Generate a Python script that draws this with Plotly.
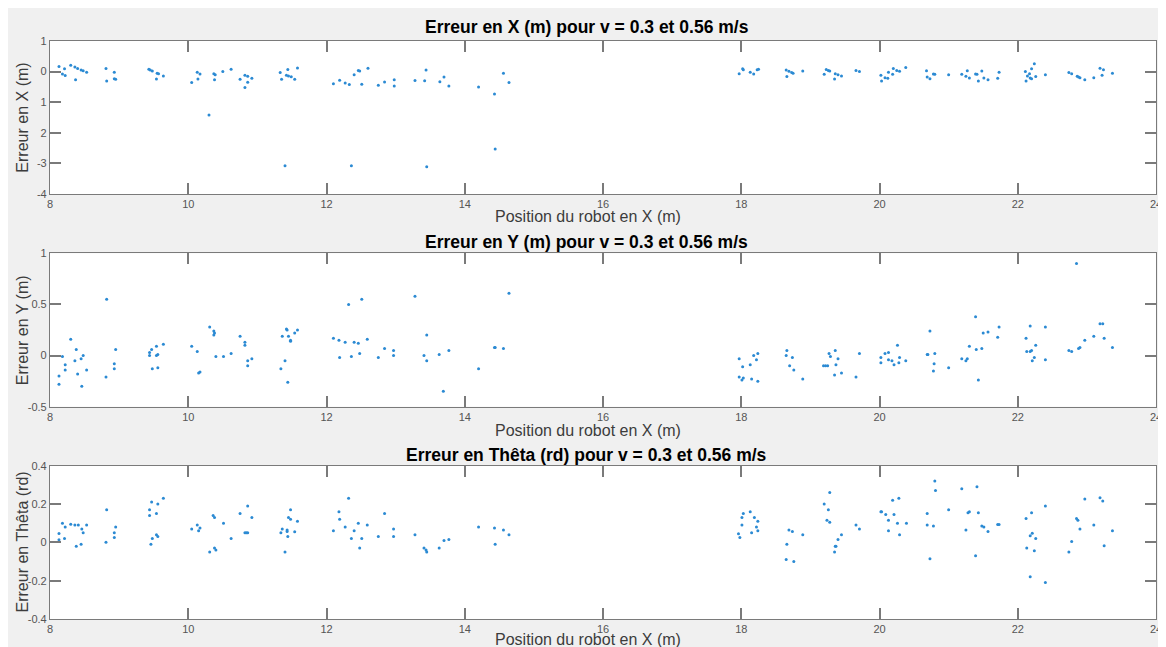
import plotly.graph_objects as go

# ---------------- data ----------------
# Erreur en X
pos_x = [8.13, 8.21, 8.18, 8.22, 8.30, 8.36, 8.40, 8.45, 8.48, 8.53, 8.37,
         8.81, 8.93, 8.82, 8.93, 8.95,
         9.43, 9.45, 9.48, 9.55, 9.57, 9.64, 9.54,
         10.05, 10.13, 10.17, 10.14, 10.30, 10.37, 10.39, 10.38, 10.50, 10.62,
         10.75, 10.82, 10.86, 10.92, 10.86, 10.82,
         11.33, 11.40, 11.44, 11.58, 11.35, 11.42, 11.45, 11.49, 11.54,
         12.10, 12.19, 12.27, 12.33, 12.36, 12.40, 12.46, 12.48, 12.51, 12.60,
         12.75, 12.84, 12.98, 12.98,
         13.28, 13.42, 13.44, 13.45, 13.64, 13.70, 13.77,
         14.20, 14.43, 14.44, 14.56, 14.64,
         17.97, 18.02, 18.03, 18.13, 18.18, 18.23, 18.25,
         18.65, 18.69, 18.73, 18.75, 18.66, 18.89, 19.20, 19.23, 19.26, 19.28,
         19.36, 19.40, 19.35, 19.45, 19.66, 19.71,
         20.02, 20.03, 20.08, 20.12, 20.13, 20.19, 20.20, 20.25, 20.29, 20.38,
         20.68, 20.69, 20.73, 20.78, 20.80, 21.00,
         21.19, 21.27, 21.25, 21.30, 21.39, 21.41, 21.43, 21.48, 21.51, 21.57,
         21.73, 21.71,
         22.11, 22.12, 22.14, 22.17, 22.18, 22.20, 22.20, 22.24, 22.26, 22.40,
         22.74, 22.78, 22.86, 22.88, 22.90, 22.97, 23.10, 23.19, 23.24, 23.22, 23.37]
err_x = [0.17, 0.09, -0.08, -0.13, 0.21, 0.15, 0.10, 0.05, 0.03, -0.02, -0.27,
         0.10, -0.02, -0.31, -0.23, -0.25,
         0.08, 0.05, 0.02, -0.05, -0.07, -0.14, -0.24,
         -0.36, -0.02, -0.08, -0.24, -1.42, -0.07, -0.10, -0.27, 0.00, 0.08,
         -0.25, -0.12, -0.15, -0.22, -0.35, -0.52,
         -0.03, -3.08, 0.07, 0.12, -0.25, -0.12, -0.14, -0.17, -0.25,
         -0.40, -0.28, -0.37, -0.42, -3.08, -0.10, 0.04, 0.02, -0.41, 0.11,
         -0.45, -0.34, -0.27, -0.47,
         -0.29, -0.30, 0.05, -3.11, -0.33, -0.18, -0.47,
         -0.50, -0.73, -2.53, -0.05, -0.36,
         -0.07, 0.09, 0.06, -0.02, -0.08, 0.06, 0.08,
         0.05, 0.01, -0.03, -0.05, -0.16, 0.02, -0.09, 0.07, 0.04, 0.02,
         -0.07, -0.10, -0.24, -0.14, 0.04, 0.00,
         -0.12, -0.31, -0.20, -0.22, -0.02, -0.09, 0.10, 0.04, 0.01, 0.13,
         0.03, -0.18, -0.23, -0.08, -0.09, -0.10,
         -0.09, 0.03, -0.15, -0.21, -0.08, -0.09, -0.31, 0.02, -0.21, -0.27,
         -0.02, -0.22,
         0.00, -0.31, -0.14, -0.07, -0.21, -0.23, 0.09, 0.26, -0.16, -0.10,
         -0.03, -0.07, -0.15, -0.18, -0.20, -0.27, -0.20, 0.11, 0.06, -0.12, -0.05]

# Erreur en Y
pos_y = [8.13, 8.13, 8.18, 8.22, 8.22, 8.30, 8.36, 8.38, 8.40, 8.45, 8.48, 8.46, 8.53,
         8.82, 8.81, 8.93, 8.93, 8.95,
         9.44, 9.44, 9.47, 9.48, 9.54, 9.54, 9.56, 9.56, 9.64,
         10.05, 10.13, 10.15, 10.17, 10.31, 10.37, 10.38, 10.37, 10.40, 10.51, 10.62,
         10.75, 10.82, 10.82, 10.86, 10.86, 10.92,
         11.34, 11.36, 11.40, 11.42, 11.43, 11.44, 11.45, 11.48, 11.48, 11.54, 11.58,
         12.10, 12.18, 12.19, 12.27, 12.32, 12.36, 12.40, 12.46, 12.48, 12.51, 12.59,
         12.75, 12.84, 12.97, 12.97,
         13.28, 13.41, 13.45, 13.45, 13.63, 13.69, 13.77,
         14.20, 14.43, 14.44, 14.56, 14.64,
         17.97, 18.02, 17.97, 18.01, 18.03, 18.13, 18.15, 18.18, 18.22, 18.24, 18.24,
         18.65, 18.66, 18.70, 18.74, 18.76, 18.89,
         19.19, 19.22, 19.25, 19.27, 19.29, 19.35, 19.36, 19.37, 19.40, 19.45, 19.66, 19.71,
         20.02, 20.02, 20.08, 20.13, 20.13, 20.18, 20.21, 20.26, 20.28, 20.29, 20.38,
         20.69, 20.70, 20.73, 20.78, 20.79, 20.80, 21.00,
         21.19, 21.25, 21.27, 21.30, 21.39, 21.40, 21.43, 21.48, 21.50, 21.57, 21.71, 21.73,
         22.12, 22.13, 22.18, 22.20, 22.18, 22.21, 22.24, 22.26, 22.40, 22.40,
         22.74, 22.78, 22.85, 22.88, 22.90, 22.97, 23.10, 23.19, 23.23, 23.25, 23.37]
err_y = [-0.20, -0.28, -0.01, -0.09, -0.14, 0.16, -0.05, 0.06, -0.18, -0.03, 0.00, -0.30, -0.14,
         0.55, -0.21, -0.08, -0.13, 0.06,
         0.03, 0.00, 0.06, -0.13, 0.09, 0.00, 0.01, -0.12, 0.11,
         0.09, 0.04, -0.17, -0.16, 0.28, 0.24, 0.22, 0.20, -0.01, -0.01, 0.02,
         0.19, 0.13, 0.10, -0.05, -0.10, -0.03,
         -0.13, 0.19, -0.05, 0.26, 0.25, -0.26, 0.19, 0.15, 0.14, 0.22, 0.25,
         0.17, 0.15, -0.02, 0.13, 0.50, -0.01, 0.13, 0.12, 0.02, 0.55, 0.16,
         -0.02, 0.07, 0.05, 0.00,
         0.58, 0.00, 0.20, -0.05, 0.01, -0.35, 0.05,
         -0.13, 0.08, 0.08, 0.07, 0.61,
         -0.03, -0.11, -0.21, -0.24, -0.22, -0.09, -0.23, 0.00, -0.04, 0.02, -0.25,
         0.00, 0.05, -0.10, -0.02, -0.14, -0.23,
         -0.10, -0.10, -0.10, 0.02, -0.01, -0.19, 0.05, -0.09, -0.03, -0.17, -0.21, 0.02,
         -0.07, -0.02, 0.02, -0.04, 0.03, -0.05, -0.09, 0.10, -0.07, -0.02, -0.05,
         0.01, 0.01, 0.24, -0.15, -0.08, 0.02, -0.12,
         -0.03, -0.05, -0.03, 0.09, 0.38, 0.06, -0.24, 0.07, 0.22, 0.23, 0.18, 0.28,
         0.17, 0.04, 0.04, 0.05, 0.29, -0.05, -0.02, 0.10, -0.04, 0.28,
         0.05, 0.04, 0.90, 0.07, 0.08, 0.15, 0.19, 0.31, 0.31, 0.17, 0.08]

# Erreur en Theta
pos_t = [8.13, 8.13, 8.18, 8.22, 8.21, 8.30, 8.36, 8.38, 8.41, 8.46, 8.48, 8.45, 8.53,
         8.82, 8.81, 8.93, 8.93, 8.95,
         9.44, 9.44, 9.47, 9.46, 9.48, 9.54, 9.56, 9.54, 9.56, 9.64,
         10.05, 10.13, 10.15, 10.17, 10.31, 10.36, 10.38, 10.38, 10.40, 10.51, 10.62,
         10.75, 10.82, 10.84, 10.86, 10.86, 10.92,
         11.34, 11.36, 11.40, 11.43, 11.43, 11.44, 11.45, 11.48, 11.48, 11.54, 11.58,
         12.10, 12.18, 12.19, 12.27, 12.32, 12.36, 12.40, 12.46, 12.48, 12.51, 12.59,
         12.75, 12.84, 12.97, 12.97,
         13.28, 13.41, 13.44, 13.45, 13.63, 13.70, 13.77,
         14.20, 14.43, 14.44, 14.56, 14.64,
         17.96, 17.98, 18.01, 18.01, 18.03, 18.13, 18.15, 18.19, 18.22, 18.24, 18.24,
         18.65, 18.66, 18.69, 18.74, 18.76, 18.89,
         19.20, 19.28, 19.26, 19.24, 19.28, 19.35, 19.36, 19.37, 19.40, 19.45, 19.66, 19.71,
         20.02, 20.03, 20.09, 20.13, 20.13, 20.19, 20.21, 20.26, 20.28, 20.29, 20.39,
         20.69, 20.69, 20.73, 20.78, 20.80, 20.81, 21.00,
         21.19, 21.25, 21.28, 21.30, 21.39, 21.41, 21.43, 21.48, 21.51, 21.57, 21.71, 21.73,
         22.12, 22.13, 22.18, 22.18, 22.20, 22.21, 22.24, 22.26, 22.40, 22.40,
         22.74, 22.78, 22.85, 22.87, 22.90, 22.97, 23.10, 23.19, 23.23, 23.25, 23.37]
err_t = [0.046, 0.013, 0.10, 0.08, 0.02, 0.095, 0.09, -0.02, 0.09, 0.07, 0.05, -0.01, 0.09,
         0.17, 0.00, 0.05, 0.025, 0.08,
         0.17, 0.14, 0.21, -0.01, 0.02, 0.15, 0.20, 0.04, 0.03, 0.23,
         0.07, 0.09, 0.06, 0.075, -0.05, 0.14, 0.13, -0.03, -0.04, 0.10, 0.02,
         0.15, 0.05, 0.05, 0.05, 0.19, 0.13,
         0.05, 0.07, -0.05, 0.065, 0.056, 0.03, 0.13, 0.12, 0.17, 0.055, 0.11,
         0.06, 0.16, 0.12, 0.08, 0.23, 0.02, 0.06, 0.10, -0.03, 0.02, 0.09,
         0.03, 0.15, 0.07, 0.03,
         0.04, -0.03, -0.04, -0.05, -0.03, 0.01, 0.015,
         0.08, 0.075, -0.01, 0.065, 0.04,
         0.045, 0.025, 0.13, 0.09, 0.15, 0.16, 0.05, 0.13, 0.08, 0.11, 0.06,
         -0.09, -0.01, 0.065, 0.056, -0.10, 0.04,
         0.20, 0.26, 0.17, 0.115, 0.105, -0.05, -0.02, -0.02, 0.015, 0.04, 0.09, 0.07,
         0.16, 0.16, 0.145, 0.115, 0.06, 0.22, 0.145, 0.10, 0.23, 0.04, 0.10,
         0.15, 0.09, -0.085, 0.085, 0.32, 0.27, 0.17,
         0.28, 0.065, 0.155, 0.16, -0.07, 0.29, 0.155, 0.085, 0.08, 0.056, 0.093, 0.093,
         0.124, -0.03, 0.035, -0.18, 0.155, 0.048, -0.044, 0.02, 0.19, -0.21,
         -0.05, 0.004, 0.124, 0.115, 0.07, 0.226, 0.09, 0.233, 0.216, -0.018, 0.06]

titles = ["Erreur en X (m) pour v = 0.3 et 0.56 m/s",
          "Erreur en Y (m) pour v = 0.3 et 0.56 m/s",
          "Erreur en Thêta (rd) pour v = 0.3 et 0.56 m/s"]
ylabels = ["Erreur en X (m)", "Erreur en Y (m)", "Erreur en Thêta (rd)"]
xlabel = "Position du robot en X (m)"
x_ticks = [8, 10, 12, 14, 16, 18, 20, 22, 24]
y1_ticks = [1, 0, -1, -2, -3, -4]
y1_ticktext = ["1", "0", "1", "2", "-3", "-4"]
y2_ticks = [1, 0.5, 0, -0.5]
y3_ticks = [0.4, 0.2, 0, -0.2, -0.4]

# ---------------- layout geometry (figure pixels) ----------------
W, H = 1166, 647
L, R, T, B = 42, 13, 33, 36
PW, PH = W - L - R, H - T - B


def py2p(py):
    return 1 - (py - T) / PH


def px2p(px):
    return (px - L) / PW


def clamp(v):
    return min(1.0, max(0.0, v))


panels = [(33, 186), (245.3, 398.7), (457.7, 611)]
title_y = [19, 234, 447]
xlabel_y = [208, 422, 631]

FONT = "Liberation Sans, Arial, Helvetica, sans-serif"
LINEC = "#7a7a7a"
DOT = "#2b8ad3"

fig = go.Figure()
data = [(pos_x, err_x), (pos_y, err_y), (pos_t, err_t)]
for i, (xs, ys) in enumerate(data):
    sfx = "" if i == 0 else str(i + 1)
    fig.add_trace(go.Scatter(x=xs, y=ys, mode="markers",
                             marker=dict(size=3, color=DOT, line=dict(width=0)),
                             xaxis="x" + sfx, yaxis="y" + sfx, showlegend=False,
                             hoverinfo="x+y"))

common_axis = dict(showline=True, linecolor=LINEC, linewidth=1.2, mirror="ticks",
                   ticks="inside", ticklen=11, tickwidth=2, tickcolor=LINEC,
                   showgrid=False, zeroline=False, layer="above traces",
                   tickfont=dict(family=FONT, size=11, color="#555555"))

ytick_sets = [(y1_ticks, y1_ticktext, [-4, 1]),
              (y2_ticks, [str(v) for v in y2_ticks], [-0.5, 1]),
              (y3_ticks, [str(v) for v in y3_ticks], [-0.4, 0.4])]

layout = dict(width=W, height=H, margin=dict(l=L, r=R, t=T, b=B),
              paper_bgcolor="#f0f0f0", plot_bgcolor="white",
              font=dict(family=FONT), showlegend=False)

annotations = []
for i, (top, bot) in enumerate(panels):
    sfx = "" if i == 0 else str(i + 1)
    dom = [clamp(py2p(bot)), clamp(py2p(top))]
    layout["xaxis" + sfx] = dict(common_axis, range=[8, 24], tickvals=x_ticks,
                                 ticktext=[str(v) for v in x_ticks],
                                 anchor="y" + sfx, domain=[0, 1])
    tv, tt, rng = ytick_sets[i]
    layout["yaxis" + sfx] = dict(common_axis, range=rng, tickvals=tv, ticktext=tt,
                                 anchor="x" + sfx, domain=dom)
    annotations.append(dict(text="<b>" + titles[i] + "</b>", x=px2p(581),
                            y=py2p(title_y[i]), xref="paper", yref="paper",
                            xanchor="center", yanchor="middle", showarrow=False,
                            font=dict(family=FONT, size=17.5, color="#000000")))
    annotations.append(dict(text=xlabel, x=px2p(582), y=py2p(xlabel_y[i]),
                            xref="paper", yref="paper", xanchor="center",
                            yanchor="middle", showarrow=False,
                            font=dict(family=FONT, size=16, color="#3c3c3c")))
    annotations.append(dict(text=ylabels[i], x=px2p(14), y=py2p((top + bot) / 2),
                            xref="paper", yref="paper", xanchor="center",
                            yanchor="middle", textangle=-90, showarrow=False,
                            font=dict(family=FONT, size=16, color="#3c3c3c")))

layout["annotations"] = annotations
fig.update_layout(**layout)
fig.write_html("out.html")
